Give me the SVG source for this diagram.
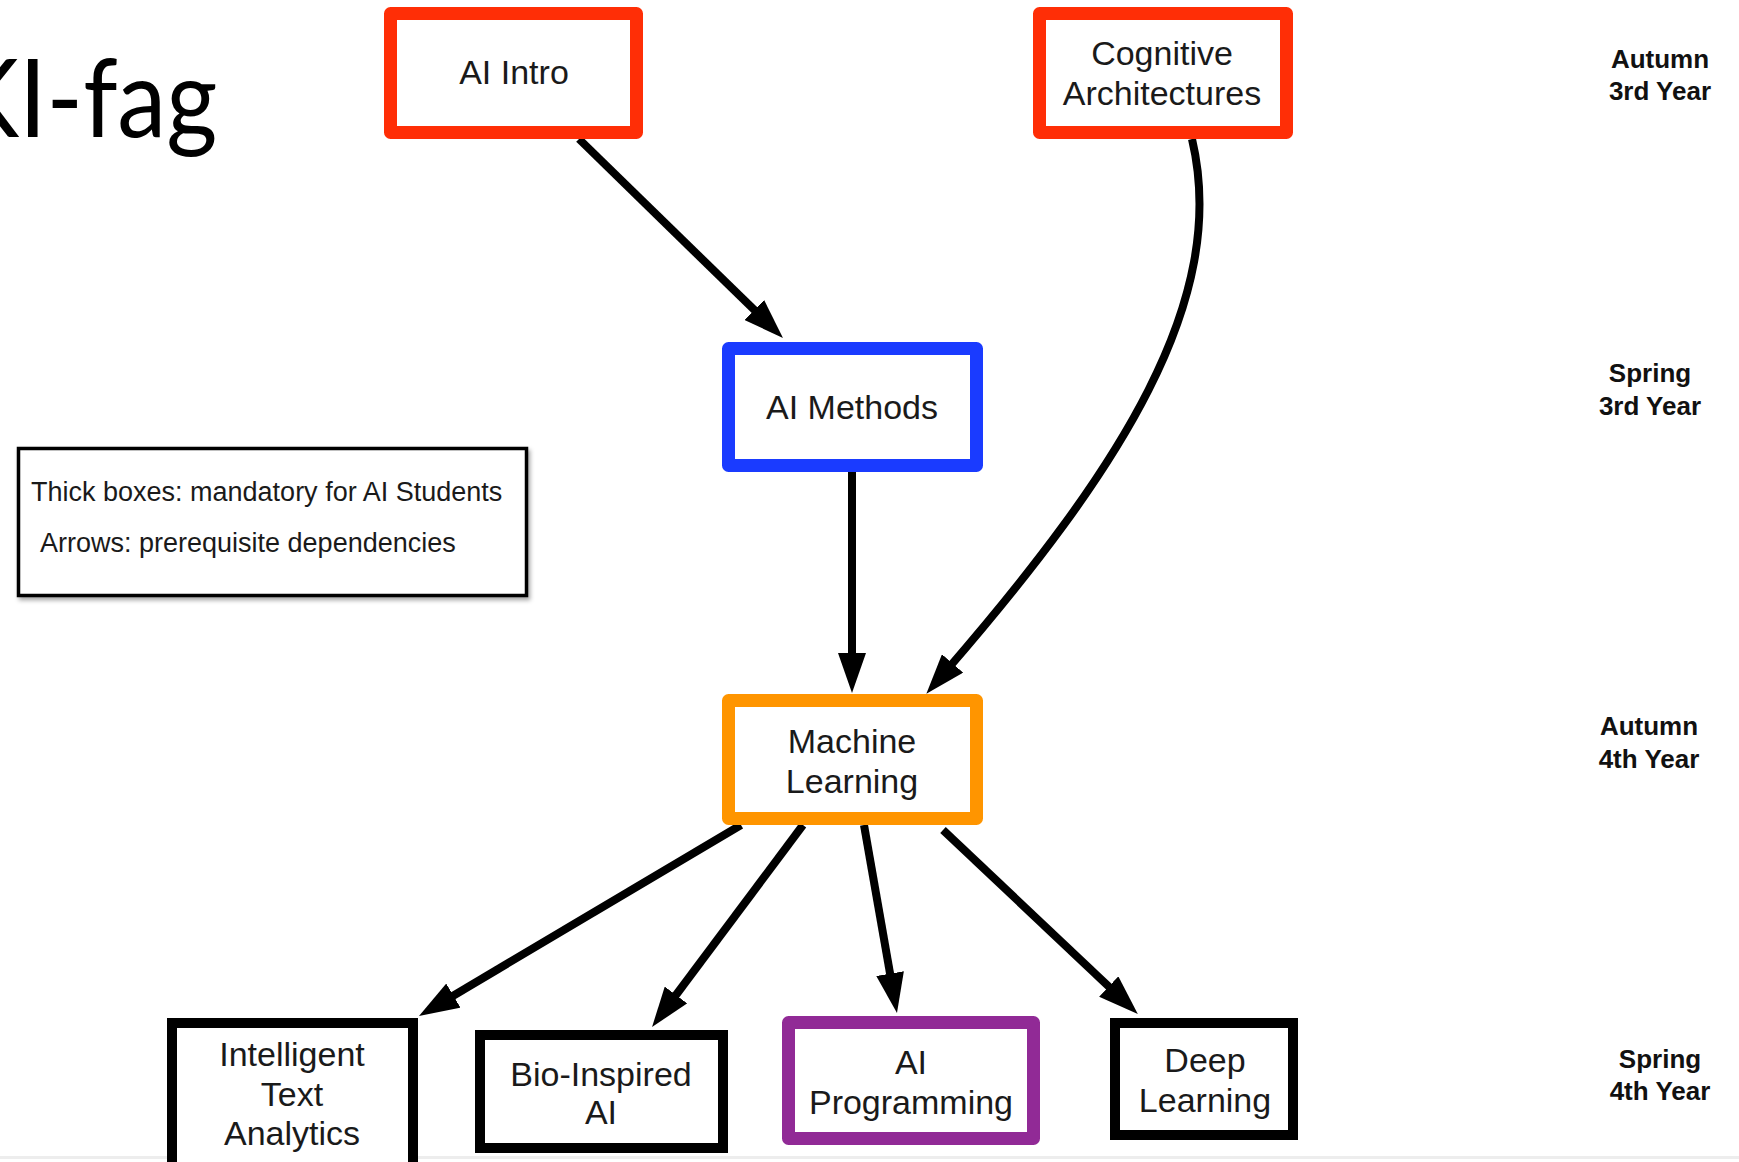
<svg xmlns="http://www.w3.org/2000/svg" width="1739" height="1162" viewBox="0 0 1739 1162">
  <style>
    .box { fill: #ffffff; stroke-linejoin: round; }
    .thick { stroke-width: 13; }
    .thin { stroke: #000000; stroke-width: 10; stroke-linejoin: miter; }
    .red { stroke: #ff2e06; }
    .blue { stroke: #1a3bff; }
    .orange { stroke: #ff9500; }
    .purple { stroke: #912a96; }
    .label { font-family: "Liberation Sans", Arial, sans-serif; font-size: 34px; fill: #1a1a1a; text-anchor: middle; }
    .term { font-family: "Liberation Sans", Arial, sans-serif; font-size: 26px; font-weight: bold; fill: #111111; text-anchor: middle; }
    .legend { font-family: "Liberation Sans", Arial, sans-serif; font-size: 27px; fill: #1a1a1a; }
    .edge { fill: none; stroke: #000000; stroke-width: 8; marker-end: url(#arrow); }
  </style>
  <defs>
    <marker id="arrow" markerUnits="userSpaceOnUse" markerWidth="40" markerHeight="28" refX="10" refY="14" orient="auto">
      <path d="M0,0 L40,14 L0,28 Z" fill="#000000"/>
    </marker>
    <filter id="shadow" x="-5%" y="-10%" width="115%" height="130%">
      <feDropShadow dx="2" dy="3" stdDeviation="2" flood-color="#000000" flood-opacity="0.35"/>
    </filter>
  </defs>

  <rect width="1739" height="1162" fill="#ffffff"/>
  <!-- faint bottom edge of the slide -->
  <rect x="0" y="1156" width="1739" height="3" fill="#ededed"/>

  <!-- slide title, running off the left edge -->
  <text transform="translate(-46,137) scale(0.91,1)" x="0" y="0" font-family="Lato, 'Open Sans', sans-serif" font-size="108" fill="#000000">KI-fag</text>

  <!-- legend -->
  <g id="legend">
    <rect x="18.5" y="448.5" width="508" height="147" fill="#ffffff" stroke="#000000" stroke-width="3.5" filter="url(#shadow)"/>
    <text class="legend" x="31" y="501">Thick boxes: mandatory for AI Students</text>
    <text class="legend" x="40" y="552">Arrows: prerequisite dependencies</text>
  </g>

  <!-- semester labels -->
  <g id="terms">
    <text class="term" x="1660" y="68">Autumn</text>
    <text class="term" x="1660" y="100">3rd Year</text>
    <text class="term" x="1650" y="382">Spring</text>
    <text class="term" x="1650" y="415">3rd Year</text>
    <text class="term" x="1649" y="735">Autumn</text>
    <text class="term" x="1649" y="768">4th Year</text>
    <text class="term" x="1660" y="1068">Spring</text>
    <text class="term" x="1660" y="1100">4th Year</text>
  </g>

  <!-- prerequisite arrows -->
  <g id="connectors">
    <path class="edge" d="M579,139 L761.5,317"/>
    <path class="edge" d="M1192,139 C1230,300 1120,470 946,671"/>
    <path class="edge" d="M852,472 L852,663"/>
    <path class="edge" d="M741,825 L444.8,1000.7"/>
    <path class="edge" d="M803,825 L670,1003"/>
    <path class="edge" d="M864,825 L891.8,983.5"/>
    <path class="edge" d="M943,830 L1116,993.4"/>
  </g>

  <!-- courses -->
  <g id="ai-intro">
    <rect class="box thick red" x="390.5" y="13.5" width="246" height="119"/>
    <text class="label" x="514" y="84">AI Intro</text>
  </g>
  <g id="cognitive-architectures">
    <rect class="box thick red" x="1039.5" y="13.5" width="247" height="119"/>
    <text class="label" x="1162" y="65">Cognitive</text>
    <text class="label" x="1162" y="105">Architectures</text>
  </g>
  <g id="ai-methods">
    <rect class="box thick blue" x="728.5" y="348.5" width="248" height="117"/>
    <text class="label" x="852" y="419">AI Methods</text>
  </g>
  <g id="machine-learning">
    <rect class="box thick orange" x="728.5" y="700.5" width="248" height="118"/>
    <text class="label" x="852" y="753">Machine</text>
    <text class="label" x="852" y="793">Learning</text>
  </g>
  <g id="intelligent-text-analytics">
    <rect class="box thin" x="172" y="1023" width="241" height="160"/>
    <text class="label" x="292" y="1066">Intelligent</text>
    <text class="label" x="292" y="1106">Text</text>
    <text class="label" x="292" y="1145">Analytics</text>
  </g>
  <g id="bio-inspired-ai">
    <rect class="box thin" x="480" y="1035" width="243" height="113"/>
    <text class="label" x="601" y="1086">Bio-Inspired</text>
    <text class="label" x="601" y="1124">AI</text>
  </g>
  <g id="ai-programming">
    <rect class="box thick purple" x="788.5" y="1022.5" width="245" height="116"/>
    <text class="label" x="911" y="1074">AI</text>
    <text class="label" x="911" y="1114">Programming</text>
  </g>
  <g id="deep-learning">
    <rect class="box thin" x="1115" y="1023" width="178" height="112"/>
    <text class="label" x="1205" y="1072">Deep</text>
    <text class="label" x="1205" y="1112">Learning</text>
  </g>
</svg>
